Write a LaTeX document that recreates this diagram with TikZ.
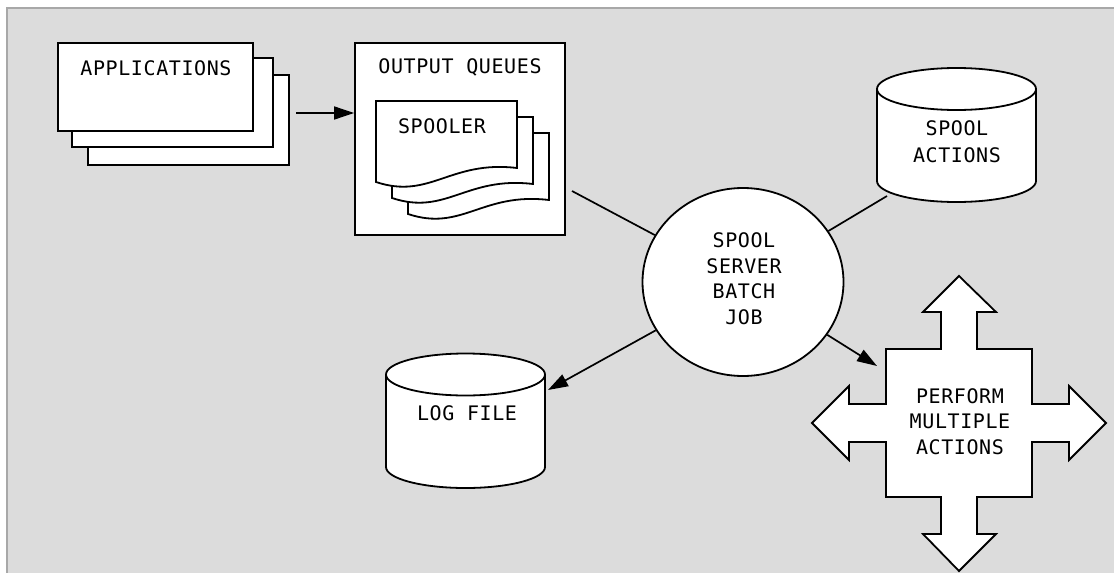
\documentclass[tikz,border=0pt]{standalone}
\usepackage{fontspec}
\setmainfont{DejaVu Sans Mono}[LetterSpace=3]
\usetikzlibrary{arrows.meta,calc,shapes.geometric}
\definecolor{bgc}{HTML}{DCDCDC}
\definecolor{framec}{HTML}{A8A8A8}
\tikzset{
  shp/.style={draw=black, fill=white, line width=1.8pt, line join=miter},
  lbl/.style={font=\fontsize{20}{25.5}\selectfont, align=center, inner sep=0pt},
  conn/.style={line width=1.7pt},
  arr/.style={conn, -{Triangle[length=20pt,width=13pt]}},
}
\newcommand\mycyl[4]{%
  \path[shp] ({#1-79.5},#2) -- ({#1-79.5},#3)
    arc[start angle=180,end angle=360,x radius=79.5pt,y radius=21pt]
    -- ({#1+79.5},#2)
    arc[start angle=0,end angle=180,x radius=79.5pt,y radius=21pt] -- cycle;
  \draw[shp, fill=none] ({#1-79.5},#2) arc[start angle=180,end angle=360,x radius=79.5pt,y radius=21pt];
  \node[minimum width=159pt, minimum height={#3-#2}, inner sep=0pt] (#4) at (#1,{(#2+#3)/2}) {};
}
\begin{document}
\begin{tikzpicture}[x=1pt,y=-1pt]
\useasboundingbox (0,0) rectangle (1114,573);
\fill[bgc] (7,8) rectangle (1114,573);
\draw[framec, line width=1.5pt] (7,573) -- (7,8) -- (1114,8);

% Applications stack
\draw[shp] (88,75) rectangle (289,165);
\draw[shp] (72,58) rectangle (273,147);
\node[shp, minimum width=195pt, minimum height=88pt, inner sep=0pt] (app) at (155.5,87) {};
\node[lbl] (apptxt) at (156,68) {APPLICATIONS};

% Output queues
\node[shp, minimum width=210pt, minimum height=192pt, inner sep=0pt] (outq) at (460,139) {};
\node[lbl] (outqtxt) at (460,67) {OUTPUT QUEUES};
\foreach \d in {32,16,0} {
  \draw[shp, shift={(\d,\d)}] (376,101) -- (517,101) -- (517,168)
     .. controls (450,160) and (430,200) .. (376,182) -- cycle;
}
\node[lbl] (spooler) at (442,126) {SPOOLER};

% Spool server
\node[shp, ellipse, minimum width=201pt, minimum height=188pt, inner sep=0pt] (spool) at (743,282) {};
\node[lbl] (spooltxt) at (744,278.5) {SPOOL\\SERVER\\BATCH\\JOB};

% Cylinders
\mycyl{956.5}{89}{181}{sact}
\node[lbl, font=\fontsize{20}{27}\selectfont] (sacttxt) at (957,141.5) {SPOOL\\ACTIONS};
\mycyl{465.5}{374.5}{467}{logf}
\node[lbl] (logftxt) at (467,413) {LOG FILE};

% Perform multiple actions cross
\draw[shp] (959,276) -- (996,312) -- (977,312) -- (977,349) -- (1032,349) -- (1032,404)
  -- (1069,404) -- (1069,386) -- (1106,423) -- (1069,460) -- (1069,442) -- (1032,442)
  -- (1032,497) -- (977,497) -- (977,534) -- (996,534) -- (959,571) -- (923,534)
  -- (941,534) -- (941,497) -- (886,497) -- (886,442) -- (849,442) -- (849,460)
  -- (812,423) -- (849,386) -- (849,404) -- (886,404) -- (886,349) -- (941,349)
  -- (941,312) -- (923,312) -- cycle;
\node[lbl] (perf) at (960,421.5) {PERFORM\\MULTIPLE\\ACTIONS};

% Connectors
\coordinate (c1) at (296,113);
\draw[arr] (c1) -- (c1 -| outq.west);
\coordinate (c2) at (572,191);
\draw[conn] (c2) -- (spool);
\coordinate (c3) at (887,196);
\draw[conn] (spool) -- (c3);
\coordinate (c4) at (548,390);
\draw[arr] (spool) -- (c4);
\coordinate (c5) at (877,366);
\draw[arr] (spool) -- (c5);
\end{tikzpicture}
\end{document}
